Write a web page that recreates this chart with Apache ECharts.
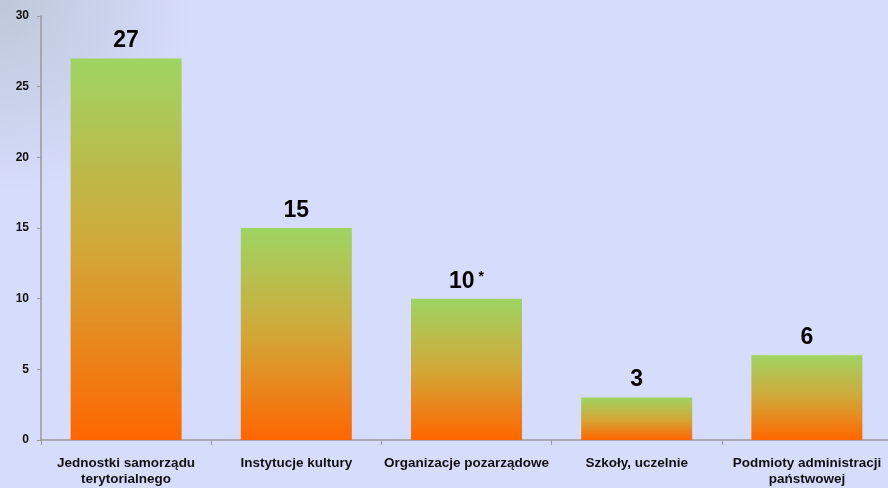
<!DOCTYPE html>
<html>
<head>
<meta charset="utf-8">
<script src="https://cdn.jsdelivr.net/npm/echarts@6/dist/echarts.min.js"></script>
<style>
  html, body { margin: 0; padding: 0; }
  #chart { width: 888px; height: 488px; }
</style>
</head>
<body>
<div id="chart"></div>
<script>
var categories = ['Jednostki samorządu\nterytorialnego', 'Instytucje kultury', 'Organizacje pozarządowe', 'Szkoły, uczelnie', 'Podmioty administracji\npaństwowej'];
var values = [27, 15, 10, 3, 6];
var valueLabels = ['27', '15', '10{s| *}', '3', '6'];

var chart = echarts.init(document.getElementById('chart'));

chart.setOption({
    backgroundColor: {
        type: 'radial', x: 0, y: 0, r: 0.4,
        colorStops: [
            {offset: 0, color: '#bec8d8'},
            {offset: 1, color: '#d6dcfc'}
        ]
    },
    grid: {left: 41, width: 851, top: 16, bottom: 48, outerBoundsMode: 'none'},
    xAxis: {
        type: 'category',
        data: categories,
        axisLine: {lineStyle: {color: '#9a9a9a', width: 1.5}},
        axisTick: {show: true, length: 5, lineStyle: {color: '#9a9a9a'}},
        axisLabel: {
            interval: 0, margin: 15, color: '#111',
            fontFamily: 'Liberation Sans', fontWeight: 'bold', fontSize: 13.5, lineHeight: 16
        }
    },
    yAxis: {
        type: 'value',
        min: 0, max: 30, interval: 5,
        splitLine: {show: false},
        axisLine: {show: true, lineStyle: {color: '#9a9a9a', width: 1.5}},
        axisTick: {show: true, length: 4, lineStyle: {color: '#9a9a9a'}},
        axisLabel: {
            margin: 12, color: '#111',
            fontFamily: 'Liberation Sans', fontWeight: 'bold', fontSize: 12
        }
    },
    series: [{
        type: 'bar',
        data: values,
        barWidth: 111,
        itemStyle: {
            color: {
                type: 'linear', x: 0, y: 0, x2: 0, y2: 1,
                colorStops: [
                    {offset: 0, color: '#9ed462'},
                    {offset: 0.5, color: '#d2a838'},
                    {offset: 1, color: '#ff6600'}
                ]
            }
        },
        label: {
            show: true,
            position: 'top',
            distance: 6,
            color: '#000',
            fontFamily: 'Liberation Sans',
            fontWeight: 'bold',
            fontSize: 23,
            formatter: function (p) { return valueLabels[p.dataIndex]; },
            rich: {
                s: {fontSize: 14, fontWeight: 'bold', color: '#000', verticalAlign: 'top', fontFamily: 'Liberation Sans', padding: [0, 0, 8, 0]}
            }
        }
    }]
});
</script>
</body>
</html>
